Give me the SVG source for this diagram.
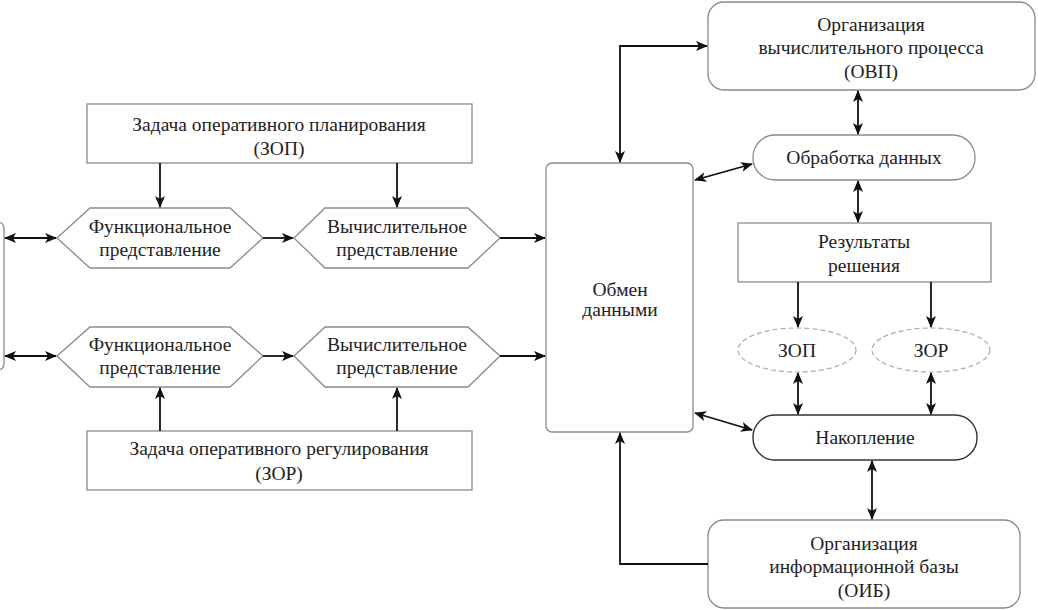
<svg xmlns="http://www.w3.org/2000/svg" width="1038" height="610" viewBox="0 0 1038 610">
<defs>
<style>
text{font-family:'Liberation Serif',serif;font-size:19.5px;fill:#222;text-anchor:middle}
.box{fill:#fff;stroke:#8a8a8a;stroke-width:1.3}
.pill{fill:#fff;stroke:#333;stroke-width:1.4}
.dash{fill:#fff;stroke:#aaa;stroke-width:1.2;stroke-dasharray:5 3}
.c{fill:none;stroke:#111;stroke-width:1.8}
</style>
<marker id="a" viewBox="0 0 12 10" refX="11" refY="5" markerWidth="12" markerHeight="10" markerUnits="userSpaceOnUse" orient="auto-start-reverse">
<path d="M0,0 L12,5 L0,10 L3,5 Z" fill="#111"/>
</marker>
</defs>
<rect width="1038" height="610" fill="#fff"/>

<g id="left-edge"><rect x="-20" y="222" width="24" height="148" rx="6" class="box"/></g>

<g id="zop-task"><rect x="87" y="104" width="385" height="59" class="box"/>
<text x="279" y="131">Задача оперативного планирования</text><text x="279" y="155">(ЗОП)</text></g>

<g id="func1"><polygon points="57,238 90,208 230,208 263,238 230,268 90,268" class="box"/>
<text x="160" y="233">Функциональное</text><text x="160" y="256">представление</text></g>
<g id="comp1"><polygon points="294,238 325,208 468,208 500,238 468,268 325,268" class="box"/>
<text x="397" y="233">Вычислительное</text><text x="397" y="256">представление</text></g>
<g id="func2"><polygon points="57,356 90,327 230,327 263,356 230,387 90,387" class="box"/>
<text x="160" y="351">Функциональное</text><text x="160" y="374">представление</text></g>
<g id="comp2"><polygon points="294,356 325,327 468,327 500,356 468,387 325,387" class="box"/>
<text x="397" y="351">Вычислительное</text><text x="397" y="374">представление</text></g>

<g id="zor-task"><rect x="87" y="431" width="385" height="59" class="box"/>
<text x="279" y="455">Задача оперативного регулирования</text><text x="279" y="480">(ЗОР)</text></g>

<g id="exchange"><rect x="546" y="163" width="147" height="269" rx="6" class="box"/>
<text x="620" y="296">Обмен</text><text x="620" y="316">данными</text></g>

<g id="ovp"><rect x="708" y="2" width="327" height="88" rx="16" class="box"/>
<text x="871" y="31">Организация</text><text x="871" y="54">вычислительного процесса</text><text x="871" y="78">(ОВП)</text></g>

<g id="processing"><rect x="753" y="135" width="222" height="45" rx="22" class="box"/>
<text x="864" y="164">Обработка данных</text></g>

<g id="results"><rect x="738" y="223" width="253" height="59" class="box"/>
<text x="864" y="248">Результаты</text><text x="864" y="272">решения</text></g>

<g id="zop"><ellipse cx="797" cy="350" rx="59" ry="22" class="dash"/><text x="797" y="357">ЗОП</text></g>
<g id="zor"><ellipse cx="931" cy="350" rx="59" ry="22" class="dash"/><text x="931" y="357">ЗОР</text></g>

<g id="storage"><rect x="753" y="415" width="224" height="45" rx="22" class="pill"/>
<text x="865" y="444">Накопление</text></g>

<g id="oib"><rect x="708" y="520" width="312" height="88" rx="16" class="box"/>
<text x="864" y="550">Организация</text><text x="864" y="573">информационной базы</text><text x="864" y="597">(ОИБ)</text></g>

<g id="connectors">
<line x1="160" y1="163" x2="160" y2="207" class="c" marker-end="url(#a)"/>
<line x1="397" y1="163" x2="397" y2="207" class="c" marker-end="url(#a)"/>
<line x1="160" y1="431" x2="160" y2="388" class="c" marker-end="url(#a)"/>
<line x1="397" y1="431" x2="397" y2="388" class="c" marker-end="url(#a)"/>
<line x1="5" y1="238" x2="56" y2="238" class="c" marker-start="url(#a)" marker-end="url(#a)"/>
<line x1="5" y1="356" x2="56" y2="356" class="c" marker-start="url(#a)" marker-end="url(#a)"/>
<line x1="263" y1="238" x2="293" y2="238" class="c" marker-end="url(#a)"/>
<line x1="263" y1="356" x2="293" y2="356" class="c" marker-end="url(#a)"/>
<line x1="500" y1="238" x2="545" y2="238" class="c" marker-end="url(#a)"/>
<line x1="500" y1="356" x2="545" y2="356" class="c" marker-end="url(#a)"/>
<path d="M620,162 V46 H707" class="c" marker-start="url(#a)" marker-end="url(#a)"/>
<line x1="858" y1="91" x2="858" y2="134" class="c" marker-start="url(#a)" marker-end="url(#a)"/>
<line x1="695" y1="180" x2="752" y2="164" class="c" marker-start="url(#a)" marker-end="url(#a)"/>
<line x1="858" y1="181" x2="858" y2="222" class="c" marker-start="url(#a)" marker-end="url(#a)"/>
<line x1="798" y1="282" x2="798" y2="327" class="c" marker-end="url(#a)"/>
<line x1="931" y1="282" x2="931" y2="327" class="c" marker-end="url(#a)"/>
<line x1="798" y1="373" x2="798" y2="414" class="c" marker-start="url(#a)" marker-end="url(#a)"/>
<line x1="931" y1="373" x2="931" y2="414" class="c" marker-start="url(#a)" marker-end="url(#a)"/>
<line x1="695" y1="413" x2="752" y2="430" class="c" marker-start="url(#a)" marker-end="url(#a)"/>
<line x1="872" y1="461" x2="872" y2="519" class="c" marker-start="url(#a)" marker-end="url(#a)"/>
<path d="M708,564 H620 V433" class="c" marker-end="url(#a)"/>
</g>
</svg>
